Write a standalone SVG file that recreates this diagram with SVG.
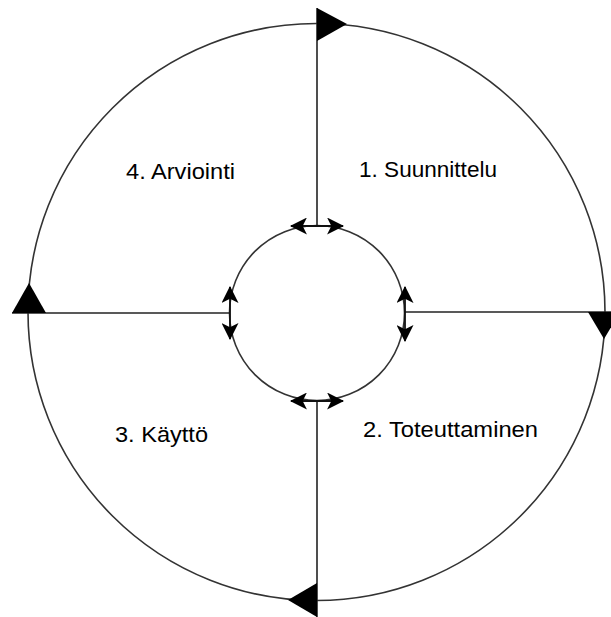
<svg xmlns="http://www.w3.org/2000/svg" width="611" height="617" viewBox="0 0 611 617">
<style>
.ring{fill:none;stroke:#333;stroke-width:1.6}
.ln{fill:none;stroke:#222;stroke-width:1.6}
.bar{fill:none;stroke:#111;stroke-width:1.8;marker-start:url(#ah);marker-end:url(#ah)}
.big{fill:#000;stroke:none}
.lbl{font-family:"Liberation Sans",Arial,sans-serif;font-size:22px;fill:#000}
</style>
<defs>
<marker id="ah" viewBox="0 0 16 16" refX="15" refY="8" markerWidth="17" markerHeight="17" markerUnits="userSpaceOnUse" orient="auto-start-reverse">
<path d="M0,0 L16,8 L0,16 L4,8 z" fill="#000"/>
</marker>
</defs>
<g id="rings">
<circle class="ring" cx="316.5" cy="312" r="288.5"/>
<circle class="ring" cx="317" cy="313" r="87.5"/>
</g>
<g id="connectors">
<line class="ln" x1="317" y1="8" x2="317" y2="226"/>
<line class="ln" x1="405" y1="312" x2="611" y2="312"/>
<line class="ln" x1="317" y1="401" x2="317" y2="617"/>
<line class="ln" x1="12" y1="313" x2="230" y2="313"/>
<line class="bar" x1="291" y1="226" x2="343" y2="226"/>
<line class="bar" x1="405" y1="287" x2="405" y2="341"/>
<line class="bar" x1="291" y1="401" x2="343" y2="401"/>
<line class="bar" x1="230" y1="287" x2="230" y2="339"/>
<polygon class="big" points="317,8 317,41 347,24"/>
<polygon class="big" points="588,312 620,312 604,339"/>
<polygon class="big" points="317,583 317,617 288,600"/>
<polygon class="big" points="12,313 46,313 29,283"/>
</g>
<g id="n1"><text class="lbl" x="359" y="177" textLength="138" lengthAdjust="spacingAndGlyphs">1. Suunnittelu</text></g>
<g id="n2"><text class="lbl" x="363" y="437" textLength="175" lengthAdjust="spacingAndGlyphs">2. Toteuttaminen</text></g>
<g id="n3"><text class="lbl" x="115" y="442" textLength="93" lengthAdjust="spacingAndGlyphs">3. Käyttö</text></g>
<g id="n4"><text class="lbl" x="126" y="179" textLength="109" lengthAdjust="spacingAndGlyphs">4. Arviointi</text></g>
</svg>
